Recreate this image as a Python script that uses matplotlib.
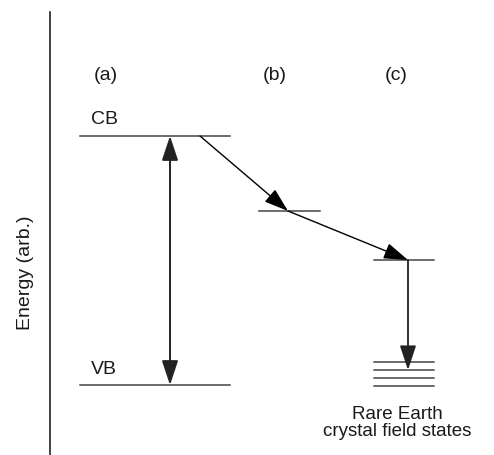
import matplotlib.pyplot as plt

plt.rcParams['font.family'] = ['Liberation Sans', 'DejaVu Sans']

# level positions in drawing units (y grows downward, energy grows upward)
level_names = ["CB", "VB", "b", "c"]
level_x0 = [80, 80, 259, 374]
level_x1 = [230, 230, 320, 434]
level_y = [137, 386, 212, 261]

# rare earth crystal field sublevels
cf_y = [363, 371, 379, 387]
cf_x = [374, 434]

column_labels = ["(a)", "(b)", "(c)"]
column_x = [106, 275, 396]

fig = plt.figure(figsize=(4.94, 4.56), dpi=100)
ax = fig.add_axes([0, 0, 1, 1])
ax.set_xlim(0, 494)
ax.set_ylim(456, 0)
ax.axis('off')

line_color = '#444444'
text_color = '#1a1a1a'

# energy axis
ax.plot([50, 50], [13, 456], color='#222222', lw=1.2)
ax.text(25, 273, "Energy (arb.)", rotation=90, ha='center', va='center',
        fontsize=14, color=text_color)

for x0, x1, y in zip(level_x0, level_x1, level_y):
    ax.plot([x0, x1], [y, y], color=line_color, lw=1.1)
for y in cf_y:
    ax.plot(cf_x, [y, y], color=line_color, lw=1.1)

for lab, x in zip(column_labels, column_x):
    ax.text(x, 75, lab, ha='center', va='center', fontsize=14, color=text_color)
ax.text(91, 120, "CB", ha='left', va='center', fontsize=14, color=text_color)
ax.text(91, 370, "VB", ha='left', va='center', fontsize=14, color=text_color)
ax.text(397, 423, "Rare Earth\ncrystal field states", ha='center', va='center',
        fontsize=13.5, color=text_color, linespacing=1.0)

head = dict(arrowstyle='-|>,head_length=0.75,head_width=0.25', color='black',
            lw=1.0, mutation_scale=20, shrinkA=0, shrinkB=0)
both = dict(head, arrowstyle='<|-|>,head_length=0.75,head_width=0.25',
            color='#222222', lw=1.4)

cb, vb, lb, lc = level_y
# band gap excitation
ax.annotate("", xy=(170, vb), xytext=(170, cb), arrowprops=both)
# relaxation CB -> b -> c -> crystal field states
ax.annotate("", xy=(288, lb), xytext=(200, cb), arrowprops=head)
ax.annotate("", xy=(408, lc), xytext=(288, lb), arrowprops=head)
ax.annotate("", xy=(408, cf_y[1]), xytext=(408, lc),
            arrowprops=dict(head, color='#222222', lw=1.3))

fig.savefig("out.png", dpi=100, facecolor='white')
